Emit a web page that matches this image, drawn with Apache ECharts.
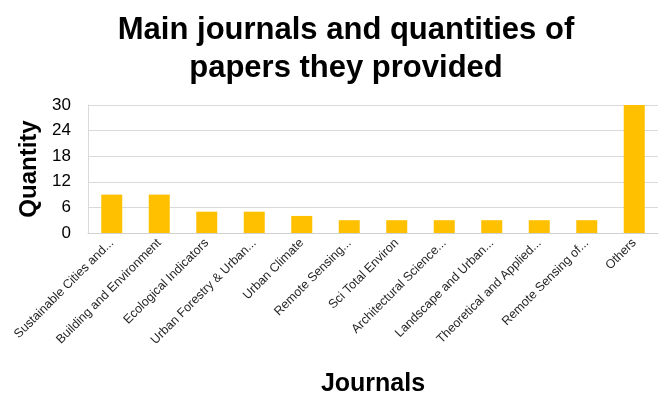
<!DOCTYPE html>
<html>
<head>
<meta charset="utf-8">
<script src="https://cdn.jsdelivr.net/npm/echarts@6/dist/echarts.min.js"></script>
<style>
  html, body { margin: 0; padding: 0; background: #fff; }
  #chart { width: 666px; height: 393px; }
</style>
</head>
<body>
<div id="chart"></div>
<script>
// journals as labelled on the axis (truncated in the original)
var journals = [
  'Sustainable Cities and...', 'Building and Environment', 'Ecological Indicators',
  'Urban Forestry & Urban...', 'Urban Climate', 'Remote Sensing...',
  'Sci Total Environ', 'Architectural Science...', 'Landscape and Urban...',
  'Theoretical and Applied...', 'Remote Sensing of...', 'Others'
];
var quantities = [9, 9, 5, 5, 4, 3, 3, 3, 3, 3, 3, 30];
var yTicks = [0, 6, 12, 18, 24, 30];

var myChart = echarts.init(document.getElementById('chart'));
var option = {
  animation: false,
  title: {
    text: 'Main journals and quantities of\npapers they provided',
    left: 341,
    textAlign: 'center',
    top: 6,
    textStyle: {
      fontFamily: 'Liberation Sans',
      fontSize: 31,
      fontWeight: 'bold',
      color: '#000',
      lineHeight: 38
    }
  },
  grid: {
    left: 88,
    right: 8,
    top: 105,
    bottom: 160,
    outerBoundsMode: 'none'
  },
  xAxis: {
    type: 'category',
    data: journals,
    name: 'Journals',
    nameLocation: 'middle',
    nameGap: 139,
    nameTextStyle: {
      fontFamily: 'Liberation Sans',
      fontSize: 25,
      fontWeight: 'bold',
      color: '#000'
    },
    axisLine: { lineStyle: { color: '#d0d0d0' } },
    axisTick: { show: false },
    axisLabel: {
      interval: 0,
      rotate: 45,
      margin: 8,
      fontFamily: 'Liberation Sans',
      fontSize: 12.5,
      color: '#262626'
    }
  },
  yAxis: {
    type: 'value',
    min: yTicks[0],
    max: yTicks[yTicks.length - 1],
    interval: yTicks[1] - yTicks[0],
    name: 'Quantity',
    nameLocation: 'middle',
    nameGap: 46,
    nameTextStyle: {
      fontFamily: 'Liberation Sans',
      fontSize: 24,
      fontWeight: 'bold',
      color: '#000'
    },
    axisLine: { show: true, lineStyle: { color: '#d9d9d9' } },
    axisTick: { show: false },
    axisLabel: {
      fontFamily: 'Liberation Sans',
      fontSize: 17,
      color: '#000',
      margin: 17
    },
    splitLine: { lineStyle: { color: '#d9d9d9', width: 1 } }
  },
  series: [{
    type: 'bar',
    data: quantities,
    barWidth: 21,
    itemStyle: { color: '#ffc000' }
  }]
};
myChart.setOption(option);
</script>
</body>
</html>
